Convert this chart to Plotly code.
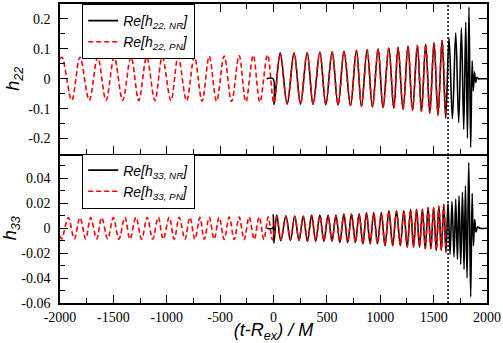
import plotly.graph_objects as go
from plotly.subplots import make_subplots

# Successive extrema of each waveform: time (t-R_ex)/M and value
pn22_t = [-2000, -1981, -1890, -1813, -1726, -1647, -1569, -1492, -1413, -1335, -1262,
          -1188, -1111, -1042, -961, -893, -814, -741, -669, -602, -533, -462, -393,
          -322, -259, -190, -128, -56, 3, 63, 128, 193, 253, 315, 371, 434, 490, 549,
          605, 661, 721, 777, 824, 877, 927, 980, 1026, 1080, 1127, 1167, 1214, 1260,
          1302, 1348, 1386, 1426, 1464, 1504, 1541, 1579, 1613]
pn22_h = [0.066, 0.072, -0.072, 0.072, -0.072, 0.072, -0.072, 0.072, -0.072, 0.073, -0.073,
          0.073, -0.073, 0.073, -0.073, 0.074, -0.074, 0.074, -0.075, 0.075, -0.075, 0.076,
          -0.076, 0.077, -0.077, 0.078, -0.078, 0.080, -0.080, 0.083, -0.082, 0.084, -0.083,
          0.086, -0.084, 0.087, -0.085, 0.089, -0.087, 0.091, -0.089, 0.094, -0.091, 0.097,
          -0.093, 0.099, -0.095, 0.102, -0.098, 0.104, -0.101, 0.108, -0.105, 0.111, -0.109,
          0.115, -0.114, 0.119, -0.121, 0.128, -0.132]

nr22_t = [-65, -4, 6, 63, 128, 193, 253, 315, 371, 434, 490, 549, 605, 661, 721, 777, 824,
          877, 927, 980, 1026, 1080, 1127, 1167, 1214, 1260, 1302, 1348, 1386, 1426, 1464,
          1504, 1541, 1579, 1613, 1644, 1676, 1707, 1735, 1760, 1782, 1801, 1817, 1831,
          1847, 1861, 1872, 1883, 1894, 1905, 1918, 1940, 2000]
nr22_h = [0, 0, -0.086, 0.087, -0.085, 0.087, -0.085, 0.088, -0.086, 0.089, -0.087, 0.090,
          -0.088, 0.092, -0.090, 0.095, -0.092, 0.098, -0.094, 0.100, -0.097, 0.103, -0.099,
          0.105, -0.102, 0.109, -0.106, 0.112, -0.110, 0.116, -0.115, 0.120, -0.122, 0.129,
          -0.132, 0.137, -0.134, 0.154, -0.146, 0.170, -0.169, 0.190, -0.199, 0.240, -0.229,
          0.060, -0.040, 0.022, -0.012, 0.005, 0, 0, 0]

pn33_t = [-2000, -1984, -1922, -1866, -1813, -1759, -1713, -1656, -1610, -1553, -1501,
          -1448, -1392, -1345, -1289, -1235, -1183, -1132, -1080, -1033, -977, -930, -883,
          -830, -783, -736, -689, -649, -602, -556, -509, -462, -415, -368, -322, -275,
          -228, -181, -134, -90, -50, -9, 31, 69, 116, 158, 199, 239, 279, 318, 357, 395,
          434, 472, 511, 548, 585, 622, 659, 695, 731, 767, 802, 837, 871, 905, 939, 974,
          1010, 1045, 1081, 1116, 1152, 1188, 1221, 1253, 1284, 1312, 1340, 1368, 1395,
          1422, 1448, 1474, 1500, 1525, 1549, 1572, 1595, 1615]
pn33_h = [-0.006,
          -0.0085, 0.0085, -0.0085, 0.0085, -0.0085, 0.0085, -0.0085, 0.0085, -0.0085, 0.0085,
          -0.0087, 0.0087, -0.0087, 0.0087, -0.0087, 0.0087, -0.0087, 0.0087, -0.0087, 0.0087,
          -0.0087, 0.0087, -0.0087, 0.0087, -0.0087, 0.0087, -0.0087, 0.0087, -0.0087, 0.0087,
          -0.0090, 0.0090, -0.0090, 0.0090, -0.0090, 0.0090, -0.0090, 0.0090, -0.0090, 0.0090,
          -0.0093, 0.0093, -0.0093, 0.0093, -0.0093, 0.0093, -0.0093, 0.0093,
          -0.0100, 0.0100, -0.0100, 0.0100, -0.0100, 0.0100, -0.0100, 0.0100,
          -0.0110, 0.0110, -0.0110, 0.0110, -0.0110, 0.0110,
          -0.0120, 0.0120, -0.0120, 0.0120, -0.0120, 0.0120,
          -0.0135, 0.0135, -0.0135, 0.0135, -0.0135, 0.0135,
          -0.0148, 0.0148, -0.0148, 0.0148, -0.0148, 0.0148,
          -0.0162, 0.0162, -0.0162, 0.0162,
          -0.0175, 0.0175, -0.0175,
          0.0190, -0.0190]

nr33_t = [-60, -8, -2, 4, 31, 69, 116, 158, 199, 239, 279, 318, 357, 395, 434, 472, 511,
          548, 585, 622, 659, 695, 731, 767, 802, 837, 871, 905, 939, 974, 1010, 1045, 1081,
          1116, 1152, 1188, 1221, 1253, 1284, 1312, 1340, 1368, 1395, 1422, 1448, 1474,
          1500, 1525, 1549, 1572, 1595, 1615, 1635, 1654, 1672, 1691, 1707, 1723, 1738,
          1754, 1770, 1785, 1798, 1813, 1829, 1847, 1861, 1873, 1885, 1897, 1912, 1935, 2000]
nr33_h = [0, 0, 0.011, -0.012, 0.0105, -0.0100, 0.0100, -0.0098, 0.0098, -0.0098, 0.0098,
          -0.0105, 0.0105, -0.0105, 0.0105, -0.0105, 0.0105, -0.0105, 0.0105,
          -0.0115, 0.0115, -0.0115, 0.0115, -0.0115, 0.0115,
          -0.0125, 0.0125, -0.0125, 0.0125, -0.0125, 0.0125,
          -0.0140, 0.0140, -0.0140, 0.0140, -0.0140, 0.0140,
          -0.0152, 0.0152, -0.0152, 0.0152, -0.0152, 0.0152,
          -0.0166, 0.0166, -0.0166, 0.0166, -0.0178, 0.0178, -0.0178, 0.0193, -0.0195,
          0.020, -0.021, 0.0215, -0.023, 0.0235, -0.025, 0.026, -0.029, 0.029, -0.033,
          0.034, -0.040, 0.053, -0.055, 0.028, -0.014, 0.007, -0.003, 0.001, 0, 0]

match_time = 1635  # dotted vertical marker

x_ticks = [-2000, -1500, -1000, -500, 0, 500, 1000, 1500, 2000]
h22_ticks = [-0.2, -0.1, 0, 0.1, 0.2]
h33_ticks = [-0.06, -0.04, -0.02, 0, 0.02, 0.04]

SERIF = "Liberation Serif"
SANS = "Liberation Sans"
NR_COLOR = "black"
PN_COLOR = "#ff0000"

fig = make_subplots(rows=2, cols=1, shared_xaxes=True, vertical_spacing=0)

fig.add_trace(go.Scatter(x=nr22_t, y=nr22_h, mode="lines", line_shape="spline",
                         line=dict(color=NR_COLOR, width=1.6),
                         name="<i>Re[h<sub>22, NR</sub>]</i>", legend="legend"), row=1, col=1)
fig.add_trace(go.Scatter(x=pn22_t, y=pn22_h, mode="lines", line_shape="spline",
                         line=dict(color=PN_COLOR, width=1.6, dash="5px,3px"),
                         name="<i>Re[h<sub>22, PN</sub>]</i>", legend="legend"), row=1, col=1)
fig.add_trace(go.Scatter(x=nr33_t, y=nr33_h, mode="lines", line_shape="spline",
                         line=dict(color=NR_COLOR, width=1.6),
                         name="<i>Re[h<sub>33, NR</sub>]</i>", legend="legend2"), row=2, col=1)
fig.add_trace(go.Scatter(x=pn33_t, y=pn33_h, mode="lines", line_shape="spline",
                         line=dict(color=PN_COLOR, width=1.6, dash="5px,3px"),
                         name="<i>Re[h<sub>33, PN</sub>]</i>", legend="legend2"), row=2, col=1)

fig.add_shape(type="line", xref="x", yref="paper", x0=match_time, x1=match_time, y0=0, y1=1,
              line=dict(color="black", width=1.5, dash="2px,2px"))

axis_common = dict(showline=True, linecolor="black", linewidth=1.5,
                   ticks="inside", ticklen=8, tickwidth=1.2, tickcolor="black",
                   showgrid=False, zeroline=False,
                   tickfont=dict(family=SERIF, size=14, color="black"))

fig.update_xaxes(range=[-2000, 2000], tickvals=x_ticks, ticktext=[f"{v:g}" for v in x_ticks],
                 minor=dict(dtick=250, tick0=0, ticks="inside", ticklen=5, tickcolor="black"),
                 **axis_common)
# top panel: boxed with ticks on both edges; bottom panel: no line/ticks on the shared edge
fig.update_xaxes(showticklabels=False, mirror="allticks", row=1, col=1)
fig.update_xaxes(mirror=False,
                 title=dict(text="<i>(t-R<sub>ex</sub>) / M</i>", standoff=2,
                            font=dict(family=SANS, size=18, color="black")), row=2, col=1)

fig.update_yaxes(range=[-0.25, 0.25], tickvals=h22_ticks, ticktext=[f"{v:g}" for v in h22_ticks],
                 minor=dict(dtick=0.05, tick0=0, ticks="inside", ticklen=5, tickcolor="black"),
                 ticklabelstandoff=5, mirror="allticks",
                 title=dict(text="<i>h<sub>22</sub></i>", standoff=4,
                            font=dict(family=SANS, size=18, color="black")),
                 row=1, col=1, **axis_common)
fig.update_yaxes(range=[-0.06, 0.06], tickvals=h33_ticks, ticktext=[f"{v:g}" for v in h33_ticks],
                 minor=dict(dtick=0.01, tick0=0, ticks="inside", ticklen=5, tickcolor="black"),
                 ticklabelstandoff=5, mirror="allticks",
                 title=dict(text="<i>h<sub>33</sub></i>", standoff=4,
                            font=dict(family=SANS, size=18, color="black")),
                 row=2, col=1, **axis_common)

legend_style = dict(xanchor="left", yanchor="top", bgcolor="white", bordercolor="black",
                    borderwidth=1, font=dict(family=SANS, size=14, color="black"),
                    tracegroupgap=0)
fig.update_layout(
    width=503, height=343,
    margin=dict(l=60, r=16, t=2, b=40),
    paper_bgcolor="white", plot_bgcolor="white",
    showlegend=True,
    legend=dict(x=0.052, y=1.0, **legend_style),
    legend2=dict(x=0.052, y=0.5, **legend_style),
)

# the page body has a default 8px margin; drop it so the figure sits at the window corner
fig.write_html("out.html", config={"displayModeBar": False},
               post_script="document.body.style.margin='0';")
